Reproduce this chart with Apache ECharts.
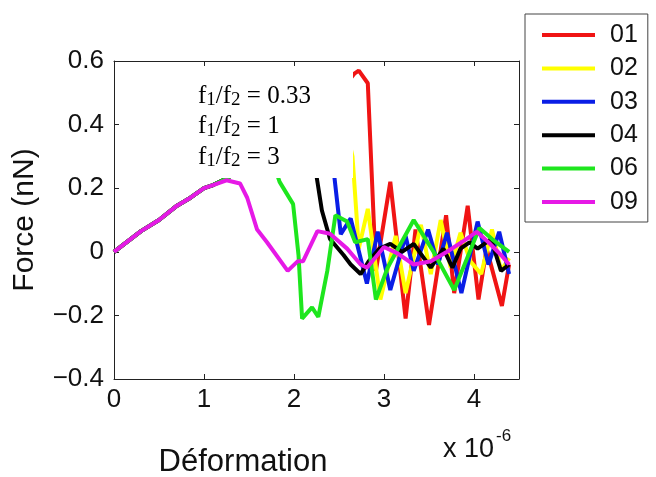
<!DOCTYPE html>
<html><head><meta charset="utf-8">
<script src="https://cdn.jsdelivr.net/npm/echarts@6/dist/echarts.min.js"></script>
<style>html,body{margin:0;padding:0;background:#fff}#c{width:656px;height:477px}</style>
</head><body><div id="c"></div>
<script>
const seriesNames = ['01','02','03','04','06','09'];
const seriesColors = ['#f01414','#ffff00','#0a1ee6','#000000','#1ee61e','#e619e6'];
const xTicks = [0,1,2,3,4];
const yTicks = [-0.4,-0.2,0,0.2,0.4,0.6];

const x01 = [0,0.3,0.5,0.7,0.85,1.0,1.1,1.25,1.5,2.0,2.5,2.67,2.72,2.82,2.91,3.07,3.24,3.35,3.5,3.69,3.78,3.93,4.05,4.14,4.31,4.39];
const y01 = [0,0.065,0.1,0.145,0.17,0.2,0.21,0.23,0.28,0.39,0.5,0.56,0.57,0.53,-0.06,0.22,-0.21,0.07,-0.23,0.115,-0.13,0.145,-0.15,0.01,-0.17,-0.04];

const x02 = [0,0.3,0.5,0.7,0.85,1.0,1.1,1.25,1.5,2.0,2.5,2.65,2.72,2.82,2.96,3.13,3.24,3.41,3.52,3.63,3.74,3.85,3.96,4.08,4.2,4.3,4.39];
const y02 = [0,0.065,0.1,0.145,0.17,0.2,0.21,0.23,0.28,0.39,0.49,0.3,0.01,0.135,-0.15,0.05,-0.13,0.085,-0.07,0.1,-0.05,0.06,-0.03,-0.07,0.07,-0.06,-0.02];

const x03 = [0,0.3,0.5,0.7,0.85,1.0,1.1,1.25,1.5,2.0,2.36,2.52,2.63,2.81,2.93,3.07,3.24,3.33,3.49,3.6,3.7,3.86,4.04,4.16,4.28,4.39];
const y03 = [0,0.065,0.1,0.145,0.17,0.2,0.21,0.23,0.28,0.39,0.46,0.055,0.105,-0.1,0.063,-0.12,0.05,-0.06,0.07,-0.04,0.06,-0.13,0.095,-0.04,0.063,-0.07];

const x04 = [0,0.3,0.5,0.7,0.85,1.0,1.1,1.25,1.5,2.0,2.15,2.31,2.4,2.55,2.63,2.74,2.83,2.95,3.07,3.2,3.33,3.52,3.66,3.76,3.85,3.95,4.04,4.19,4.3,4.39];
const y04 = [0,0.065,0.1,0.145,0.17,0.2,0.21,0.23,0.28,0.39,0.42,0.13,0.04,-0.01,-0.04,-0.07,-0.03,0.01,0.025,0.0,0.025,-0.05,0.01,-0.05,0.01,0.03,0.01,0.04,-0.06,-0.04];

const x06 = [0,0.3,0.5,0.7,0.85,1.0,1.1,1.25,1.5,1.72,1.84,1.99,2.05,2.09,2.2,2.27,2.37,2.46,2.59,2.68,2.82,2.91,3.04,3.33,3.55,3.78,4.06,4.2,4.39];
const y06 = [0,0.065,0.1,0.145,0.17,0.2,0.21,0.23,0.28,0.32,0.22,0.15,-0.01,-0.21,-0.175,-0.205,-0.06,0.115,0.095,0.03,0.04,-0.15,-0.05,0.1,0.0,-0.12,0.075,0.04,0.0];

const x09 = [0,0.3,0.5,0.7,0.85,1.0,1.1,1.25,1.4,1.48,1.59,1.7,1.93,2.04,2.1,2.26,2.4,2.59,2.74,2.81,3.0,3.15,3.33,3.52,3.7,3.89,4.03,4.16,4.3,4.39];
const y09 = [0,0.065,0.1,0.145,0.17,0.2,0.21,0.225,0.215,0.17,0.07,0.03,-0.06,-0.03,-0.03,0.065,0.057,0.01,-0.04,-0.05,0.015,-0.005,-0.04,-0.03,0.0,0.035,0.063,0.03,-0.01,-0.04];

const X = [x01,x02,x03,x04,x06,x09];
const Y = [y01,y02,y03,y04,y06,y09];

const SANS = '"Liberation Sans", Arial, Helvetica, sans-serif';
const SERIF = '"Liberation Serif", "Times New Roman", serif';
const chart = echarts.init(document.getElementById('c'));

const frameAxis = {
  axisLine:{show:true,onZero:false,lineStyle:{color:'#222',width:1}},
  axisTick:{show:true,inside:true,length:5,lineStyle:{color:'#222',width:1}},
  splitLine:{show:false}
};
function fmtY(v){
  const r = Math.round(v*10)/10;
  if (r === 0) return '0';
  return (r<0?'\u2212':'') + Math.abs(r).toFixed(1);
}
const ratioRich = {
  n:{fontFamily:SERIF,fontSize:25,lineHeight:28,color:'#111',verticalAlign:'middle'},
  s:{fontFamily:SERIF,fontSize:19,lineHeight:18,color:'#111',verticalAlign:'bottom'}
};
const option = {
  animation:false,
  backgroundColor:'#fff',
  grid:{left:114,top:61,width:405,height:318,containLabel:false},
  xAxis:[
    Object.assign({type:'value',min:0,max:4.5,interval:1,position:'bottom',
      axisLabel:{show:true,fontFamily:SANS,fontSize:26,color:'#111',margin:8,showMaxLabel:false,
        formatter:v=> xTicks.includes(v)? String(v):''}}, frameAxis),
    Object.assign({type:'value',min:0,max:4.5,interval:1,position:'top',axisLabel:{show:false}}, frameAxis)
  ],
  yAxis:[
    Object.assign({type:'value',min:-0.4,max:0.6,interval:0.2,position:'left',
      name:'Force (nN)',nameLocation:'middle',nameGap:74,
      nameTextStyle:{fontFamily:SANS,fontSize:30,color:'#111'},
      axisLabel:{show:true,fontFamily:SANS,fontSize:26,color:'#111',margin:10,formatter:fmtY}}, frameAxis),
    Object.assign({type:'value',min:-0.4,max:0.6,interval:0.2,position:'right',axisLabel:{show:false}}, frameAxis)
  ],
  legend:{
    orient:'vertical',left:525,top:14,
    padding:[8,10,7,17],itemGap:7.4,
    itemWidth:53,itemHeight:4,icon:'rect',itemStyle:{borderWidth:0},
    borderColor:'#444',borderWidth:1,backgroundColor:'#fff',
    selectedMode:false,
    textStyle:{fontFamily:SANS,fontSize:25,color:'#111',lineHeight:26,padding:[0,0,0,10]},
    data:seriesNames
  },
  series: seriesNames.map((n,i)=>({
    name:n,type:'line',xAxisIndex:0,yAxisIndex:0,
    data:X[i].map((x,j)=>[x,Y[i][j]]),
    showSymbol:false,symbol:'none',
    lineStyle:{color:seriesColors[i],width:4},
    itemStyle:{color:seriesColors[i]},
    z:2+i
  })),
  graphic:[
    {type:'rect',shape:{x:190,y:67,width:163,height:111},style:{fill:'#fff'},z:100,silent:true},
    {type:'text',x:198,y:82,style:{text:'{n|f}{s|1}{n|/f}{s|2}{n| = 0.33}',rich:ratioRich},z:101},
    {type:'text',x:198,y:112.5,style:{text:'{n|f}{s|1}{n|/f}{s|2}{n| = 1}',rich:ratioRich},z:101},
    {type:'text',x:198,y:143,style:{text:'{n|f}{s|1}{n|/f}{s|2}{n| = 3}',rich:ratioRich},z:101},
    {type:'rect',shape:{x:190,y:168,width:163,height:10},style:{fill:'#fff'},z:102,silent:true},
    {type:'text',x:243,y:462,style:{text:'Déformation',font:'31px '+SANS,fill:'#111',align:'center',verticalAlign:'middle'},z:101},
    {type:'text',x:443,y:450,style:{text:'x 10',font:'27px '+SANS,fill:'#111',align:'left',verticalAlign:'middle'},z:101},
    {type:'text',x:496,y:436,style:{text:'-6',font:'17px '+SANS,fill:'#111',align:'left',verticalAlign:'middle'},z:101}
  ]
};
chart.setOption(option);
</script></body></html>
